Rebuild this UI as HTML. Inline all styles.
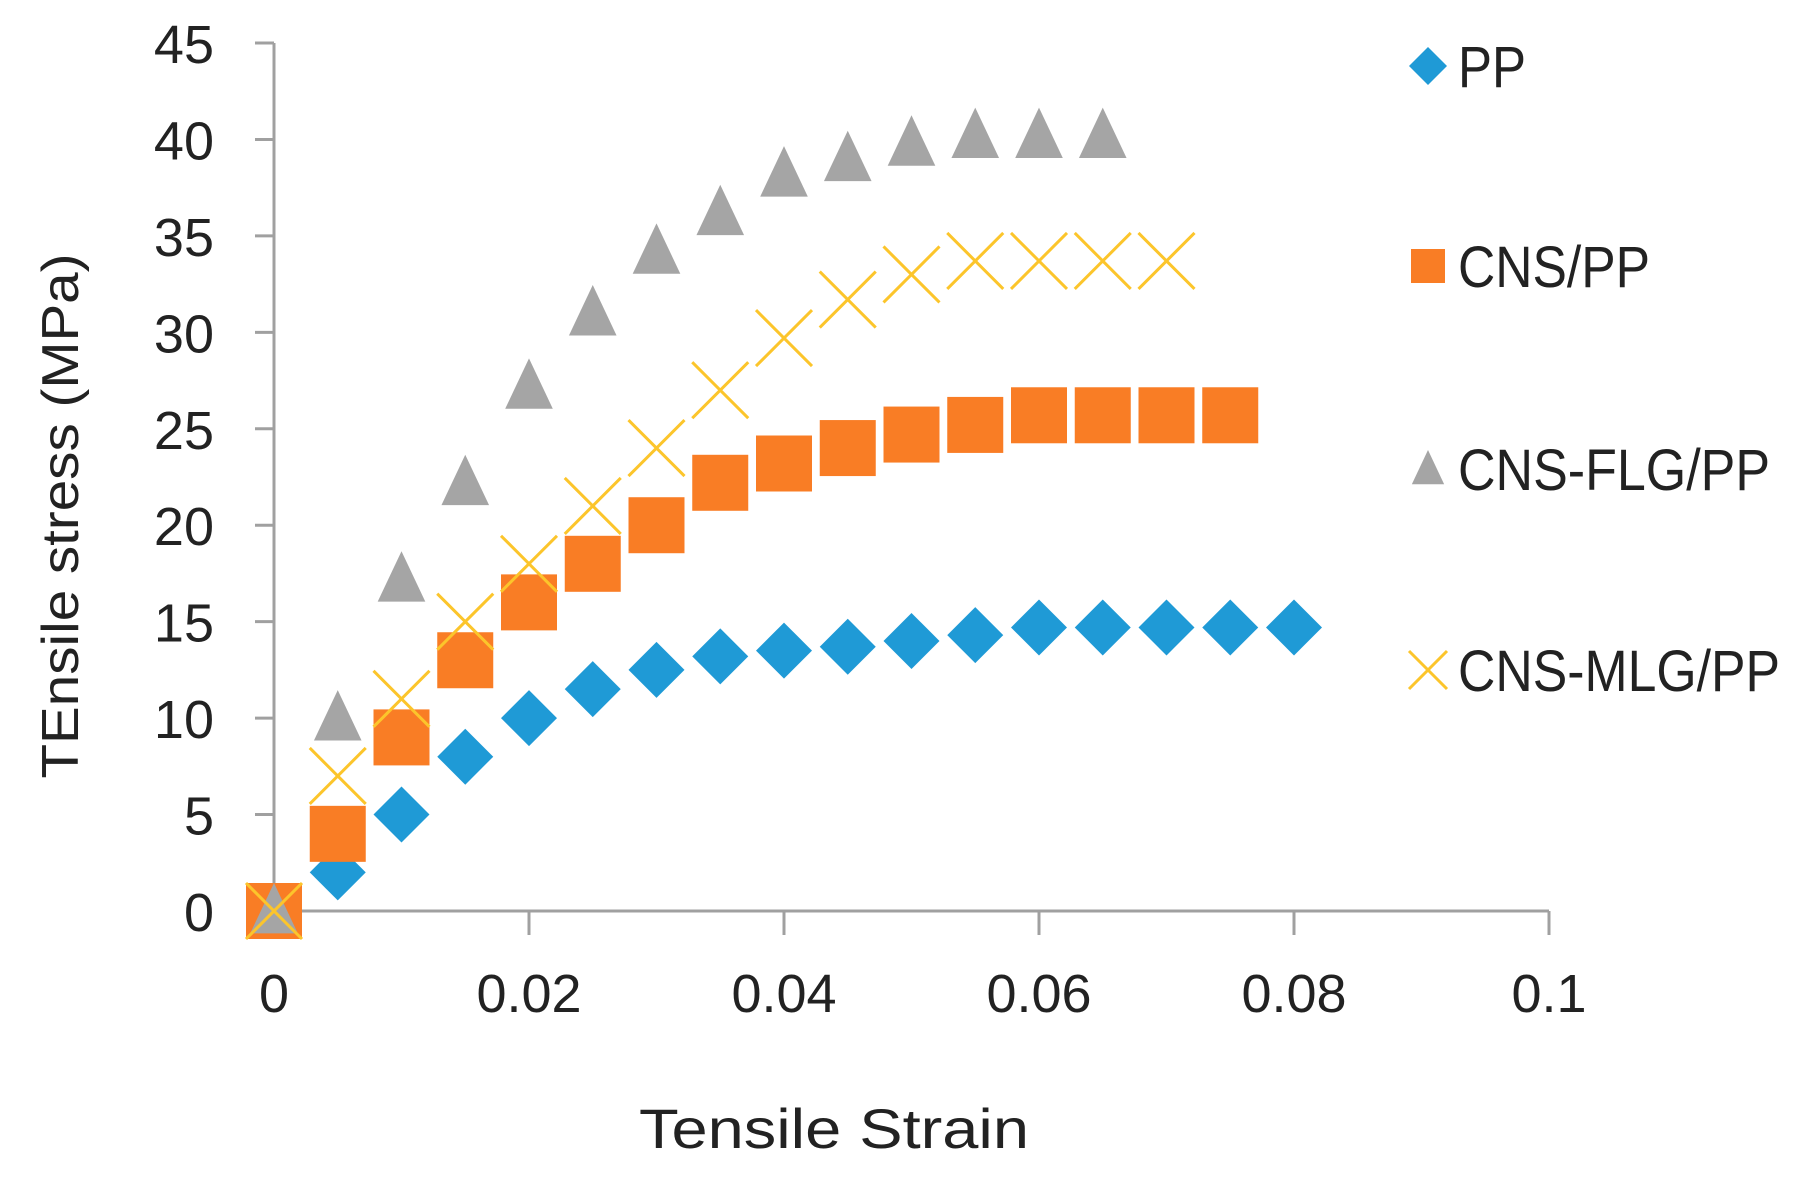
<!DOCTYPE html>
<html><head><meta charset="utf-8"><style>
html,body{margin:0;padding:0;background:#fff;}
svg{display:block;font-family:"Liberation Sans",sans-serif;}
</style></head><body>
<svg id="chart" width="1806" height="1184" viewBox="0 0 1806 1184" xmlns="http://www.w3.org/2000/svg">
<g id="axes"></g>
<g id="marks"></g>
<g id="legend"></g>
<text x="834" y="1148" font-size="56" fill="#222" text-anchor="middle" textLength="390" lengthAdjust="spacingAndGlyphs">Tensile Strain</text>
<text x="0" y="0" font-size="52" fill="#222" text-anchor="middle" transform="translate(78,516) rotate(-90)" textLength="525" lengthAdjust="spacingAndGlyphs">TEnsile stress (MPa)</text>
</svg>
<script>
const strain = [0,0.005,0.01,0.015,0.02,0.025,0.03,0.035,0.04,0.045,0.05,0.055,0.06,0.065,0.07,0.075,0.08];
const ppValues = [0,2,5,8,10,11.5,12.5,13.2,13.5,13.7,14,14.3,14.7,14.7,14.7,14.7,14.7];
const cnsValues = [0,4,9,13,16,18,20,22.2,23.2,24,24.7,25.2,25.7,25.7,25.7,25.7];
const flgValues = [0,10,17.2,22.2,27.2,31,34.2,36.2,38.2,39,39.8,40.2,40.2,40.2];
const mlgValues = [0,7,11,15,18,21,24,27,29.7,31.7,33,33.7,33.7,33.7,33.7];
const xTicks = [0,0.02,0.04,0.06,0.08,0.1];
const xTickLabels = ["0","0.02","0.04","0.06","0.08","0.1"];
const yTicks = [0,5,10,15,20,25,30,35,40,45];
const seriesNames = ["PP","CNS/PP","CNS-FLG/PP","CNS-MLG/PP"];

const NS="http://www.w3.org/2000/svg";
const X0=274,X1=1549,Y0=911,Y1=43;
function xs(v){return X0+(v-0)/(0.1)*(X1-X0);}
function ys(v){return Y0-(v/45)*(Y0-Y1);}
function mk(tag,attrs,parent){const e=document.createElementNS(NS,tag);for(const k in attrs)e.setAttribute(k,attrs[k]);parent.appendChild(e);return e;}
const axes=document.getElementById('axes'),marks=document.getElementById('marks'),legend=document.getElementById('legend');
const AX="#a0a0a0";
let l=mk('line',{x1:X0,y1:Y1,x2:X0,y2:Y0,stroke:AX,'stroke-width':3},axes);


l=mk('line',{x1:X0,y1:Y0,x2:X1,y2:Y0,stroke:AX,'stroke-width':3},axes);


xTicks.forEach((t,i)=>{
  const tk=mk('line',{x1:xs(t),y1:Y0,x2:xs(t),y2:Y0+24,stroke:AX,'stroke-width':3},axes);
  
  
  const tx=mk('text',{x:xs(t),y:1012,'font-size':54,fill:'#222','text-anchor':'middle'},axes);
  tx.textContent=xTickLabels[i];
  
  
});
yTicks.forEach(t=>{
  const tk=mk('line',{x1:255,y1:ys(t),x2:X0,y2:ys(t),stroke:AX,'stroke-width':3},axes);
  
  
  const tx=mk('text',{x:214,y:ys(t)+20,'font-size':54,fill:'#222','text-anchor':'end'},axes);
  tx.textContent=String(t);
  
  
});
function diamond(cx,cy,r,p){return mk('polygon',{points:`${cx},${cy-r} ${cx+r},${cy} ${cx},${cy+r} ${cx-r},${cy}`,fill:'#1f9ad6'},p);}
function square(cx,cy,r,p){return mk('rect',{x:cx-r,y:cy-r,width:2*r,height:2*r,fill:'#f97d25'},p);}
function tri(cx,cy,r,p){return mk('polygon',{points:`${cx},${cy-r} ${cx+r*0.85},${cy+r*0.8} ${cx-r*0.85},${cy+r*0.8}`,fill:'#a5a5a5'},p);}
function cross(cx,cy,r,p){return mk('path',{d:`M${cx-r},${cy-r}L${cx+r},${cy+r}M${cx+r},${cy-r}L${cx-r},${cy+r}`,stroke:'#fcc52b','stroke-width':3,fill:'none'},p);}
ppValues.forEach((v,i)=>{const e=diamond(xs(strain[i]),ys(v),28,marks);
  
  });
cnsValues.forEach((v,i)=>{const e=square(xs(strain[i]),ys(v),28,marks);
  
  });
flgValues.forEach((v,i)=>{const e=tri(xs(strain[i]),ys(v),28,marks);
  
  });
mlgValues.forEach((v,i)=>{const e=cross(xs(strain[i]),ys(v),28,marks);
  
  });
const legY=[66,266,469,670];
const legFns=[diamond,square,tri,cross];
const legR=[19,17,19,19];
const legW=[68,192,312,322];
seriesNames.forEach((n,i)=>{
  const m=legFns[i](1428,legY[i],legR[i],legend);
  
  
  const t=mk('text',{x:1458,y:legY[i]+21,'font-size':58,fill:'#222',textLength:legW[i],lengthAdjust:'spacingAndGlyphs'},legend);
  t.textContent=n;
  
  
});
</script>
</body></html>
